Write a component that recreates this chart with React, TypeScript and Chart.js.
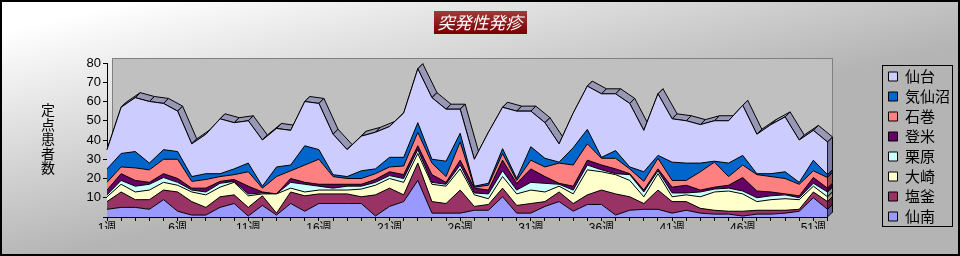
import React, { useEffect, useRef } from 'react';
import { Chart, registerables } from 'chart.js';
Chart.register(...registerables);

const TITLE = '突発性発疹';
const Y_TITLE = '定点患者数';

const WEEKS = ['1週','2週','3週','4週','5週','6週','7週','8週','9週','10週','11週','12週','13週','14週','15週','16週','17週','18週','19週','20週','21週','22週','23週','24週','25週','26週','27週','28週','29週','30週','31週','32週','33週','34週','35週','36週','37週','38週','39週','40週','41週','42週','43週','44週','45週','46週','47週','48週','49週','50週','51週','52週'];

// stacked bottom -> top
const SENNAN = [4,5,5,4,9,3,1,1,5,7, 0.5,6,1,7,3,7,7,7,7,0.5, 5.5,8,19,2,2,2,3.5,3.5,10.5,2, 2,5.5,8,3,6.5,6.5,1,3.5,4,4, 2,3.5,2,1.5,1.5,0.5,1.5,1.5,2,3, 10,4];
const SHIOGAMA = [4,8,4,5,5,10,7,4,5.5,4.5, 4.5,5,1,6,8,5,5,5,3.5,11, 9.5,3.5,9,6,5,12,2,3,4.5,4, 5,2.5,5,4,5,7.5,11,7,3,10, 6,4.5,2.5,2,1.5,2.5,2,2,1.5,1, 3,4];
const OSAKI = [2.5,4,4,5,4,3.5,5,6.5,5,6.5, 6,1,10,2,2,2,2,2,4,5, 5,6.5,5,9,9,11,6,3,6,6, 7,5,3,5,13,9.5,10,8.5,3.5,8.5, 2.5,3.5,6,9.5,10.5,9,4.5,5.5,6,5, 3,2.5];
const KURIHARA = [1,2,3,3,2.5,1.5,1,1.5,2,0.5, 1,0.5,0,3,4,2,1,2,1.5,1.5, 1.5,2,2,1,1,2,1,2.5,3,2, 4,4.5,1,2,2.5,1,0.5,3,2.5,1.5, 2,1,2.5,1.5,1.5,1.5,2,2,2,1, 1.5,2.5];
const TOME = [2.5,3.5,3,1,2,2,1,2,1,1, 4,0.5,0,2,1,1,2,1,1,1.5, 2,2,2,4,1,2.5,2.5,2,5.5,3.5, 7,3.5,0.5,2,2.5,2.5,2.5,0.5,1,1, 3,4,1,1,1.5,7,3.5,2,0.5,1, 3,2];
const ISHINOMAKI = [4,3.5,6.5,6.5,7.5,10,3.5,4.5,2.5,2.5, 7.5,2,9,4,9,13,4,3,3,3, 2.5,4.5,7,6,3,9.5,0.5,2.5,3.5,1.5, 4.5,5,10.5,11,8.5,3.5,5.5,2.5,4.5,5.5, 3.5,2.5,9.5,13,4.5,6.5,8.5,8,8,6, 3.5,5.5];
const KESENNUMA = [7,7,8.5,3.5,5,4,2.5,3,1.5,3, 4.5,1,5,3,10,5,1,1,4,2.5, 5,4.5,5,2,8,4.5,0.5,1,2.5,1, 7,4.5,0.5,9,7.5,0.5,4,1,5,1.5, 9.5,9,4.5,0.5,7,5,0.5,1.5,3.5,1, 5.5,1.5];
const SENDAI = [10,24,28,32,24,21,17,20.5,28.5,24, 22,24,20,18,23,24,21,14,18,19, 16,23,28,32,27,12.5,14,26.5,21.5,35, 18.5,18.5,9.5,18,22.5,33,29.5,33,21.5,32, 22.5,22,20,21,22,26,20.5,25.5,28.5,22, 15.5,17];

const SERIES_NAMES = ['仙南','塩釜','大崎','栗原','登米','石巻','気仙沼','仙台'];
const SERIES_DATA = [SENNAN, SHIOGAMA, OSAKI, KURIHARA, TOME, ISHINOMAKI, KESENNUMA, SENDAI];
const SERIES_COLORS = ['#9999FF','#993366','#FFFFCC','#CCFFFF','#660066','#FF8080','#0066CC','#CCCCFF'];

const Y_MIN = 0;
const Y_MAX = 80;
const Y_STEP = 10;
const X_LABEL_EVERY = 5;

const DX = 5;
const DY = 5;
const RIDGE_COLOR = '#9898b6';
const CJK = '"Noto Sans CJK JP", sans-serif';
const NUM = '"Liberation Sans", "Noto Sans CJK JP", sans-serif';

function shade(hex: string, f: number) {
  const n = parseInt(hex.slice(1), 16);
  const r = Math.round(((n >> 16) & 255) * f);
  const g = Math.round(((n >> 8) & 255) * f);
  const b = Math.round((n & 255) * f);
  return `rgb(${r},${g},${b})`;
}

const decor = {
  id: 'decor',
  beforeDraw(chart: any) {
    const { ctx, width, height, chartArea: a } = chart;
    ctx.save();
    const g = ctx.createLinearGradient(0, 0, 60, height);
    g.addColorStop(0, '#ffffff');
    g.addColorStop(0.12, '#ffffff');
    g.addColorStop(1, '#b4b4b4');
    ctx.fillStyle = g;
    ctx.fillRect(0, 0, width, height);
    ctx.strokeStyle = '#000';
    ctx.lineWidth = 2;
    ctx.strokeRect(1, 1, width - 2, height - 2);
    // back wall
    ctx.fillStyle = '#c0c0c0';
    ctx.fillRect(a.left + DX, a.top - DY, a.right - a.left, a.bottom - a.top);
    ctx.strokeStyle = '#808080';
    ctx.lineWidth = 1;
    ctx.strokeRect(Math.round(a.left + DX) + 0.5, Math.round(a.top - DY) + 0.5, Math.round(a.right - a.left), Math.round(a.bottom - a.top));
    // title box
    const tb = chart.titleBlock;
    const fs = 17;
    ctx.font = `italic ${fs}px ${CJK}`;
    const tw = ctx.measureText(TITLE).width;
    const cx = (tb.left + tb.right) / 2;
    const cy = tb.top + 12 + fs * 1.2 / 2;
    const bw = tw + 8, bh = 23;
    const tg = ctx.createLinearGradient(0, cy - bh / 2, 0, cy + bh / 2);
    tg.addColorStop(0, '#a33a3a');
    tg.addColorStop(1, '#7a0000');
    ctx.fillStyle = tg;
    ctx.fillRect(Math.round(cx - bw / 2), Math.round(cy - bh / 2), Math.round(bw), bh);
    ctx.restore();
  },
  beforeDatasetsDraw(chart: any) {
    const { ctx } = chart;
    const n = chart.data.datasets.length;
    const yScale = chart.scales.y;
    ctx.save();
    ctx.strokeStyle = '#000';
    ctx.lineWidth = 1;
    ctx.lineJoin = 'miter';
    // side faces at the last category
    for (let j = 0; j < n; j++) {
      const pts = chart.getDatasetMeta(j).data;
      const last = pts[pts.length - 1];
      const yb = j === 0 ? yScale.getPixelForValue(0) : chart.getDatasetMeta(j - 1).data[pts.length - 1].y;
      const yt = last.y;
      ctx.fillStyle = shade(SERIES_COLORS[j], 0.6);
      ctx.beginPath();
      ctx.moveTo(last.x, yb);
      ctx.lineTo(last.x, yt);
      ctx.lineTo(last.x + DX, yt - DY);
      ctx.lineTo(last.x + DX, yb - DY);
      ctx.closePath();
      ctx.fill();
      ctx.stroke();
    }
    // top ridge of the top series
    const top = chart.getDatasetMeta(n - 1).data;
    ctx.fillStyle = RIDGE_COLOR;
    for (let i = 0; i < top.length - 1; i++) {
      const p = top[i], q = top[i + 1];
      ctx.beginPath();
      ctx.moveTo(p.x, p.y);
      ctx.lineTo(q.x, q.y);
      ctx.lineTo(q.x + DX, q.y - DY);
      ctx.lineTo(p.x + DX, p.y - DY);
      ctx.closePath();
      ctx.fill();
      ctx.stroke();
    }
    ctx.restore();
  },
  afterDraw(chart: any) {
    const { ctx } = chart;
    ctx.save();
    // vertical y-axis title
    ctx.fillStyle = '#000';
    ctx.font = `14px ${CJK}`;
    ctx.textAlign = 'center';
    ctx.textBaseline = 'middle';
    const chars = Array.from(Y_TITLE);
    chars.forEach((c, i) => ctx.fillText(c, 48, 110 + i * 14.5));
    // legend frame
    const hb = chart.legend.legendHitBoxes;
    if (hb && hb.length) {
      const l = Math.min(...hb.map((h: any) => h.left));
      const r = Math.max(...hb.map((h: any) => h.left + h.width));
      const t = Math.min(...hb.map((h: any) => h.top));
      const b = Math.max(...hb.map((h: any) => h.top + h.height));
      ctx.strokeStyle = '#000';
      ctx.lineWidth = 1;
      ctx.strokeRect(Math.round(l - 6) + 0.5, Math.round(t - 4) + 0.5, Math.round(r - l + 8), Math.round(b - t + 6));
    }
    ctx.restore();
  },
};

export default function App() {
  const ref = useRef<HTMLCanvasElement | null>(null);
  useEffect(() => {
    if (!ref.current) return;
    const datasets = SERIES_NAMES.map((name, i) => ({
      label: name,
      data: SERIES_DATA[i],
      backgroundColor: SERIES_COLORS[i],
      borderColor: '#000000',
      borderWidth: 1,
      fill: i === 0 ? 'origin' : '-1',
      pointRadius: 0,
      tension: 0,
    }));
    const chart = new Chart(ref.current, {
      type: 'line',
      data: { labels: WEEKS, datasets },
      plugins: [decor],
      options: {
        responsive: false,
        animation: false,
        devicePixelRatio: 1,
        events: [],
        layout: { padding: { left: 0, right: 0, top: 0, bottom: 27 } },
        plugins: {
          title: {
            display: true,
            text: TITLE,
            color: '#ffffff',
            font: { family: CJK, size: 17, style: 'italic', weight: 'normal' },
            padding: { top: 12, bottom: 30.6 },
          },
          legend: {
            display: true,
            position: 'right',
            align: 'end',
            reverse: true,
            labels: {
              boxWidth: 9,
              boxHeight: 9,
              padding: 5,
              color: '#000',
              font: { family: CJK, size: 15 },
            },
          },
          tooltip: { enabled: false },
        },
        scales: {
          x: {
            type: 'category',
            offset: false,
            grid: { display: true, drawOnChartArea: false, drawTicks: true, tickLength: 4, color: '#000' },
            border: { display: true, color: '#000' },
            ticks: {
              autoSkip: false,
              maxRotation: 0,
              minRotation: 0,
              padding: 0,
              color: '#000',
              font: { family: NUM, size: 12 },
              callback: (_v: any, idx: number) => (idx % X_LABEL_EVERY === 0 ? WEEKS[idx] : ''),
            },
            afterFit: (s: any) => { s.height = 12; },
          },
          y: {
            stacked: true,
            min: Y_MIN,
            max: Y_MAX,
            grid: { display: true, drawOnChartArea: false, drawTicks: true, tickLength: 4, color: '#000' },
            border: { display: true, color: '#000' },
            ticks: {
              stepSize: Y_STEP,
              padding: 2,
              color: '#000',
              font: { family: NUM, size: 13 },
              callback: (v: any) => (v === 0 ? '' : String(v)),
            },
            afterFit: (s: any) => { s.width = 107; },
          },
          spacer: {
            type: 'linear',
            position: 'right',
            display: true,
            grid: { display: false },
            border: { display: false },
            ticks: { display: false },
            afterFit: (s: any) => { s.width = 56; },
          },
        },
      } as any,
    });
    return () => chart.destroy();
  }, []);
  return (
    <div style={{ position: 'fixed', left: 0, top: 0, width: 960, height: 256 }}>
      <canvas ref={ref} width={960} height={256} style={{ display: 'block' }} />
    </div>
  );
}
